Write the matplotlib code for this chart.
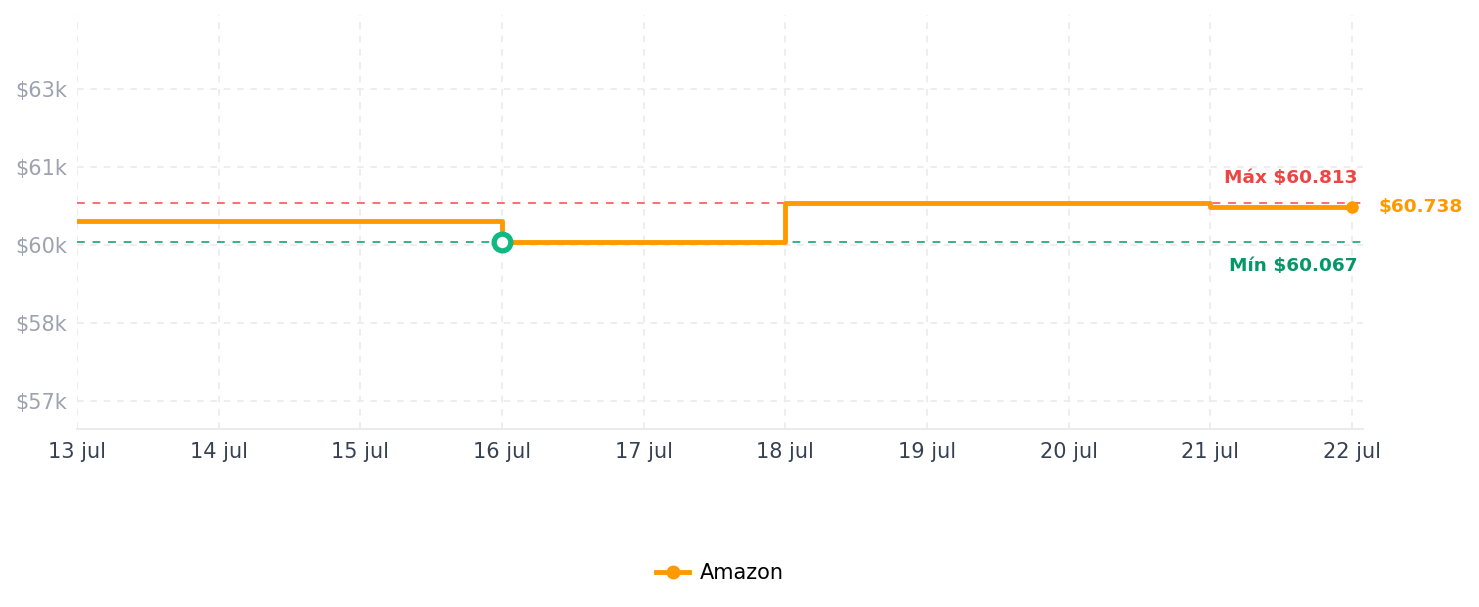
import matplotlib
matplotlib.use("Agg")
import matplotlib.pyplot as plt
from matplotlib.ticker import FixedLocator

plt.rcParams["font.family"] = ["DejaVu Sans"]

days = [13, 14, 15, 16, 17, 18, 19, 20, 21, 22]
day_labels = ["13 jul", "14 jul", "15 jul", "16 jul", "17 jul", "18 jul", "19 jul", "20 jul", "21 jul", "22 jul"]
prices = [60460, 60460, 60460, 60067, 60067, 60813, 60813, 60813, 60738, 60738]
max_price = 60813
min_price = 60067
min_day = 16
y_ticks = [57000, 58500, 60000, 61500, 63000]
y_tick_labels = ["$57k", "$58k", "$60k", "$61k", "$63k"]
series_name = "Amazon"

orange = "#ff9900"
fig = plt.figure(figsize=(14.79, 6.07), dpi=100)
ax = fig.add_axes([77/1479, 1-429/607, (1363-77)/1479, (429-15)/607])

ax.set_xlim(13, 13 + (1363-77)/((1352-77)/9))
ax.set_ylim(60000 - (429-245)*1500/78, 60000 + (245-15)*1500/78)

ax.grid(True, color="#ebebeb", linestyle=(0, (4, 4)), linewidth=1.2)
ax.set_axisbelow(True)
for s in ["top", "right", "left"]:
    ax.spines[s].set_visible(False)
ax.spines["bottom"].set_color("#e5e7eb")
ax.spines["bottom"].set_linewidth(1.2)

ax.axhline(max_price, color="#f87171", linestyle=(0, (4, 4)), linewidth=1.4, zorder=2)
ax.axhline(min_price, color="#34b38a", linestyle=(0, (4, 4)), linewidth=1.4, zorder=2)

ax.plot(days, prices, drawstyle="steps-post", color=orange, linewidth=3.5, zorder=3)
ax.plot([days[-1]], [prices[-1]], "o", color=orange, markersize=8, zorder=4)
ax.plot([min_day], [min_price], "o", markerfacecolor="white", markeredgecolor="#10b981",
        markeredgewidth=3.8, markersize=12, zorder=5)

ax.plot([], [], color=orange, linewidth=3.5, marker="o", markersize=9, label=series_name)

ax.xaxis.set_major_locator(FixedLocator(days))
ax.set_xticklabels(day_labels)
ax.yaxis.set_major_locator(FixedLocator(y_ticks))
ax.set_yticklabels(y_tick_labels)
ax.tick_params(axis="x", colors="#374151", labelsize=15, length=0, pad=9)
ax.tick_params(axis="y", colors="#9ca3af", labelsize=15, length=0, pad=7)

ax.annotate(f"Máx ${max_price/1000:.3f}", xy=(1, max_price), xycoords=("axes fraction", "data"),
            xytext=(-5, 25), textcoords="offset pixels", ha="right", va="center",
            color="#ef4444", fontsize=13.3, fontweight="bold", annotation_clip=False)
ax.annotate(f"Mín ${min_price/1000:.3f}", xy=(1, min_price), xycoords=("axes fraction", "data"),
            xytext=(-5, -24), textcoords="offset pixels", ha="right", va="center",
            color="#059669", fontsize=13.3, fontweight="bold", annotation_clip=False)
ax.annotate(f"${prices[-1]/1000:.3f}", xy=(days[-1], prices[-1]), xycoords="data",
            xytext=(27, 0), textcoords="offset pixels", ha="left", va="center",
            color=orange, fontsize=13.3, fontweight="bold", annotation_clip=False)

fig.legend(loc="center", bbox_to_anchor=(720/1479, 1-573/607), frameon=False,
           fontsize=15, handlelength=1.6, handletextpad=0.5)

fig.savefig("out.png", dpi=100, facecolor="white")
